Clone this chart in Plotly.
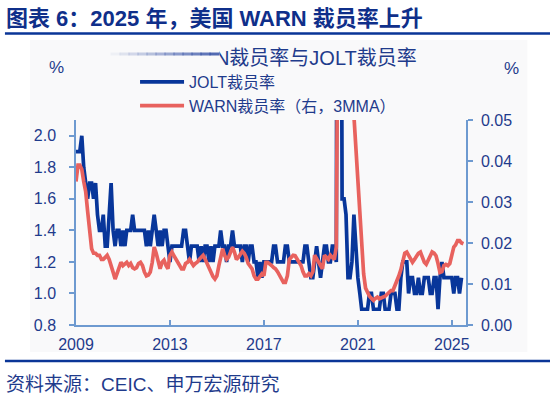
import pandas as pd
import plotly.graph_objects as go

# ---------------- data ----------------
start_month = "2009-01-01"
tick_years = ["2009", "2013", "2017", "2021", "2025"]
left_ticks = [0.8, 1.0, 1.2, 1.4, 1.6, 1.8, 2.0]
right_ticks = [0.00, 0.01, 0.02, 0.03, 0.04, 0.05]

jolt_layoff_rate = [
    1.9, 1.9, 1.9, 2.0, 1.8, 1.7, 1.6, 1.7, 1.7, 1.6, 1.7, 1.5,   # 2009
    1.4, 1.4, 1.5, 1.3, 1.3, 1.5, 1.7, 1.4, 1.3, 1.4, 1.4, 1.3,   # 2010
    1.4, 1.3, 1.4, 1.4, 1.4, 1.5, 1.4, 1.4, 1.4, 1.4, 1.4, 1.4,   # 2011
    1.3, 1.4, 1.3, 1.4, 1.5, 1.4, 1.3, 1.4, 1.3, 1.4, 1.4, 1.3,   # 2012
    1.2, 1.3, 1.3, 1.3, 1.3, 1.3, 1.3, 1.4, 1.4, 1.3, 1.2, 1.3,   # 2013
    1.3, 1.3, 1.3, 1.2, 1.3, 1.2, 1.3, 1.3, 1.2, 1.3, 1.2, 1.3,   # 2014
    1.3, 1.3, 1.4, 1.3, 1.3, 1.2, 1.3, 1.3, 1.4, 1.3, 1.3, 1.3,   # 2015
    1.3, 1.2, 1.3, 1.3, 1.2, 1.3, 1.3, 1.2, 1.2, 1.1, 1.2, 1.1,   # 2016
    1.2, 1.2, 1.2, 1.2, 1.2, 1.3, 1.3, 1.2, 1.2, 1.2, 1.2, 1.3,   # 2017
    1.3, 1.2, 1.2, 1.2, 1.2, 1.2, 1.2, 1.2, 1.2, 1.3, 1.3, 1.2,   # 2018
    1.1, 1.1, 1.2, 1.3, 1.2, 1.1, 1.2, 1.3, 1.3, 1.2, 1.2, 1.3,   # 2019
    1.3, 1.2, 7.5, 5.9, 1.6, 1.6, 1.5, 1.1, 1.1, 1.2, 1.5, 1.3,   # 2020
    1.1, 1.0, 0.9, 0.9, 0.9, 0.9, 1.0, 1.0, 0.9, 0.9, 0.9, 0.9,   # 2021
    1.0, 1.0, 0.9, 0.9, 0.9, 1.0, 1.0, 1.0, 0.9, 0.9, 1.1, 1.2,   # 2022
    1.2, 1.2, 1.0, 1.1, 1.1, 1.0, 1.0, 1.1, 1.0, 1.0, 1.1, 1.1,   # 2023
    1.1, 1.0, 1.0, 1.1, 1.1, 0.9, 1.1, 1.2, 1.1, 1.1, 1.1, 1.1,   # 2024
    1.1, 1.0, 1.1, 1.1, 1.0, 1.1,                                 # 2025
]

warn_layoff_rate_3mma = [
    0.035, 0.039, 0.039, 0.038, 0.035, 0.0325, 0.0277, 0.022, 0.0186, 0.0175, 0.0175, 0.017,
    0.017, 0.016, 0.016, 0.0165, 0.017, 0.016, 0.014, 0.0129, 0.0112, 0.0125, 0.0145, 0.0153,
    0.0145, 0.015, 0.0153, 0.0145, 0.015, 0.014, 0.0137, 0.014, 0.015, 0.0153, 0.0145, 0.0129,
    0.012, 0.0122, 0.0129, 0.0153, 0.019, 0.0175, 0.0153, 0.0137, 0.0153, 0.0158, 0.0145, 0.0137,
    0.017, 0.0178, 0.017, 0.016, 0.0153, 0.0145, 0.0137, 0.0137, 0.015, 0.0153, 0.016, 0.0153,
    0.0145, 0.015, 0.0153, 0.016, 0.0165, 0.017, 0.0161, 0.015, 0.0137, 0.0125, 0.0118, 0.0112,
    0.012, 0.0145, 0.017, 0.0186, 0.017, 0.016, 0.0165, 0.0178, 0.019, 0.0178, 0.016, 0.0165,
    0.0175, 0.018, 0.0175, 0.0165, 0.015, 0.0145, 0.0137, 0.012, 0.0112, 0.0112, 0.012, 0.0125,
    0.012, 0.0153, 0.0153, 0.015, 0.0145, 0.014, 0.0137, 0.013, 0.012, 0.011, 0.0104, 0.0104,
    0.012, 0.016, 0.0165, 0.017, 0.0169, 0.016, 0.0155, 0.0145, 0.013, 0.012, 0.012, 0.0125,
    0.012, 0.013, 0.017, 0.016, 0.0153, 0.0145, 0.0137, 0.017, 0.0165, 0.016, 0.017, 0.0165,
    0.016, 0.019, 0.09, 0.25, 0.30, 0.22, 0.14, 0.09, 0.07, 0.058, 0.051, 0.044,
    0.036, 0.028, 0.020, 0.0125, 0.009, 0.0079, 0.007, 0.0065, 0.006, 0.0065, 0.0068, 0.0064,
    0.0066, 0.0068, 0.007, 0.0075, 0.008, 0.0084, 0.0084, 0.0095, 0.0104, 0.012, 0.0135, 0.016,
    0.0175, 0.0178, 0.017, 0.016, 0.0153, 0.016, 0.0169, 0.0175, 0.0178, 0.0165, 0.0153, 0.0148,
    0.016, 0.0169, 0.0178, 0.0175, 0.0169, 0.015, 0.0128, 0.013, 0.0145, 0.0148, 0.0145, 0.015,
    0.017, 0.019, 0.0195, 0.0206, 0.0206, 0.02, 0.0198,
]

jolt_dates = pd.date_range(start_month, periods=len(jolt_layoff_rate), freq="MS")
warn_dates = pd.date_range(start_month, periods=len(warn_layoff_rate_3mma), freq="MS")

# ---------------- style ----------------
FONT = "Liberation Sans, Arial, Noto Sans CJK SC, sans-serif"
TXT = "#1F3B8C"
TITLE_C = "#0F2F8A"
AXIS_C = "#6E9AD0"
BLUE = "#08369A"
RED = "#E8625E"
BG = "#F9F9FA"

L, R, T, B = 76, 465.7, 120, 325
W, H = 550, 396


def px(x):
    return (x - L) / (R - L)


def py(y):
    return (B - y) / (B - T)


fig = go.Figure()
fig.add_trace(go.Scatter(x=jolt_dates, y=jolt_layoff_rate, name="JOLT裁员率",
                         mode="lines", line=dict(color=BLUE, width=3.7), yaxis="y"))
fig.add_trace(go.Scatter(x=warn_dates, y=warn_layoff_rate_3mma, name="WARN裁员率（右，3MMA）",
                         mode="lines", line=dict(color=RED, width=3.7), yaxis="y2"))

shapes = [
    dict(type="rect", xref="paper", yref="paper", x0=px(30), x1=px(527), y0=py(40), y1=py(352),
         fillcolor=BG, line=dict(width=0), layer="below"),
    dict(type="line", xref="paper", yref="paper", x0=px(5), x1=px(550), y0=py(33.5), y1=py(33.5),
         line=dict(color="#0A3597", width=2.5)),
    dict(type="line", xref="paper", yref="paper", x0=px(5), x1=px(550), y0=py(361), y1=py(361),
         line=dict(color="#0A3597", width=2.5)),
]

annotations = [
    dict(text="<b>图表 6：2025 年，美国 WARN 裁员率上升</b>", x=px(4), y=py(18), xref="paper", yref="paper",
         xanchor="left", yanchor="middle", showarrow=False, font=dict(family=FONT, size=22, color=TITLE_C)),
    dict(text="WARN裁员率与JOLT裁员率", x=px(419), y=py(58), xref="paper", yref="paper",
         xanchor="right", yanchor="middle", showarrow=False, font=dict(family=FONT, size=20, color=TXT)),
    # legend box partially hiding the chart title
    dict(text=" ", x=px(100), y=py(47), xref="paper", yref="paper", xanchor="left", yanchor="top",
         width=118, height=22, borderpad=0, bgcolor=BG, showarrow=False, font=dict(size=4)),
    dict(text="%", x=px(57), y=py(67), xref="paper", yref="paper", xanchor="center", yanchor="middle",
         showarrow=False, font=dict(family=FONT, size=17, color=TXT)),
    dict(text="%", x=px(511), y=py(68), xref="paper", yref="paper", xanchor="center", yanchor="middle",
         showarrow=False, font=dict(family=FONT, size=17, color=TXT)),
    dict(text="资料来源：CEIC、申万宏源研究", x=px(4), y=py(384), xref="paper", yref="paper",
         xanchor="left", yanchor="middle", showarrow=False, font=dict(family=FONT, size=19, color=TXT)),
]

# faded top edge of the legend box
n_seg = 12
for i in range(n_seg):
    x0 = 110 + i * (108 / n_seg)
    annotations.append(dict(text=" ", x=px(x0), y=py(52), xref="paper", yref="paper",
                            xanchor="left", yanchor="top", width=108 / n_seg, height=2, borderpad=0,
                            bgcolor="rgba(40,70,160,%.2f)" % (0.05 + 0.75 * i / (n_seg - 1)),
                            showarrow=False, font=dict(size=1)))

fig.update_layout(
    width=W, height=H, autosize=False,
    margin=dict(l=L, r=W - R, t=T, b=H - B, pad=0),
    paper_bgcolor="white", plot_bgcolor="rgba(0,0,0,0)",
    font=dict(family=FONT, color=TXT, size=16),
    showlegend=True,
    legend=dict(x=px(135), y=py(65), xanchor="left", yanchor="top", bgcolor="rgba(0,0,0,0)",
                font=dict(family=FONT, size=16, color=TXT), itemwidth=44, tracegroupgap=2,
                borderwidth=0),
    xaxis=dict(type="date", range=["2009-01-01", "2025-08-10"],
               tickvals=[y + "-01-01" for y in tick_years], ticktext=tick_years,
               ticks="inside", ticklen=5, tickcolor=AXIS_C, tickwidth=1.5,
               showline=True, linecolor=AXIS_C, linewidth=1.5, showgrid=False, zeroline=False,
               ticklabelstandoff=4,
               tickfont=dict(family=FONT, size=16, color=TXT)),
    yaxis=dict(range=[0.8, 2.1], tickvals=left_ticks, tickformat=".1f",
               ticks="outside", ticklen=5, tickcolor=AXIS_C, tickwidth=1.5,
               showline=True, linecolor=AXIS_C, linewidth=1.5, showgrid=False, zeroline=False,
               ticklabelstandoff=10,
               tickfont=dict(family=FONT, size=16, color=TXT)),
    yaxis2=dict(range=[0, 0.05], tickvals=right_ticks, tickformat=".2f", overlaying="y", side="right",
                ticks="outside", ticklen=5, tickcolor=AXIS_C, tickwidth=1.5,
                showline=True, linecolor=AXIS_C, linewidth=1.5, showgrid=False, zeroline=False,
                ticklabelstandoff=5,
                tickfont=dict(family=FONT, size=16, color=TXT)),
    shapes=shapes,
    annotations=annotations,
)

fig.write_html("out.html", config={"displayModeBar": False},
               post_script="document.body.style.margin='0';")
